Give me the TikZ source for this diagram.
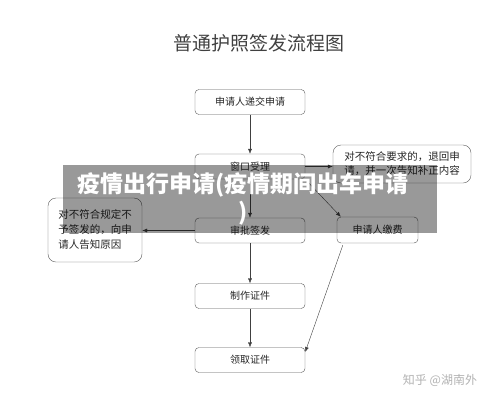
\documentclass[tikz,border=0pt]{standalone}
\usepackage{fontspec}
\newfontfamily\cjk{Noto Sans CJK SC}
\usetikzlibrary{arrows.meta}
\tikzset{
  box/.style={draw=black!65, rounded corners=4pt, minimum width=110pt,
    minimum height=25pt, inner sep=0pt, text=black!85,
    font=\cjk\fontsize{10}{12}\selectfont},
  note/.style={draw=black!65, rounded corners=8pt, align=left, inner sep=0pt,
    text=black!85, font=\cjk\fontsize{10.5}{14}\selectfont},
  flow/.style={-{Latex[length=5pt,width=4pt]}, draw=black!75}
}
\begin{document}
\begin{tikzpicture}[x=1pt,y=-1pt]
      \useasboundingbox (0,0) rectangle (500,400);
      \node[font=\cjk\fontsize{19}{22}\selectfont, text=black!75] (title) at (259,43) {普通护照签发流程图};
      \draw
        (250,102) node[box] (apply){申请人递交申请}
        (250,166.5) node[box] (window){窗口受理}
        (250,230.5) node[box] (approve){审批签发}
        (250,296) node[box] (make){制作证件}
        (250,360) node[box] (collect){领取证件}
        (377.5,230) node[box, minimum width=81pt, minimum height=26pt] (pay){申请人缴费}
        (402,164) node[note, minimum width=138pt, minimum height=38pt] (returned){对不符合要求的，退回申\\请，并一次告知补正内容}
        (95,230) node[note, minimum width=94pt, minimum height=64pt, font=\cjk\fontsize{10.5}{15}\selectfont] (refused){对不符合规定不\\予签发的，向申\\请人告知原因};
      \begin{scope}[flow]
        \draw (apply) to (window);
        \draw (window.east) to (returned.west |- window.east);
        \draw (window.south east) to ([xshift=4pt]pay.north west);
        \draw (window) to (approve);
        \draw (approve.west) to (refused.east |- approve.west);
        \draw (approve) to (make);
        \draw (make) to (collect);
        \draw ([xshift=6pt,yshift=-2pt]pay.south west) to ([yshift=8pt]collect.east);
      \end{scope}
      \node[text=black!30, font=\cjk\fontsize{12}{14}\selectfont] (mark) at (440,380) {知乎 @湖南外};
      \fill[black, fill opacity=0.4] (63,165) rectangle (437,233);
      \node[text=white, align=center, font=\cjk\bfseries\fontsize{23}{28}\selectfont] (caption) at (243,199) {疫情出行申请(疫情期间出车申请\\)};
    \end{tikzpicture}
\end{document}
